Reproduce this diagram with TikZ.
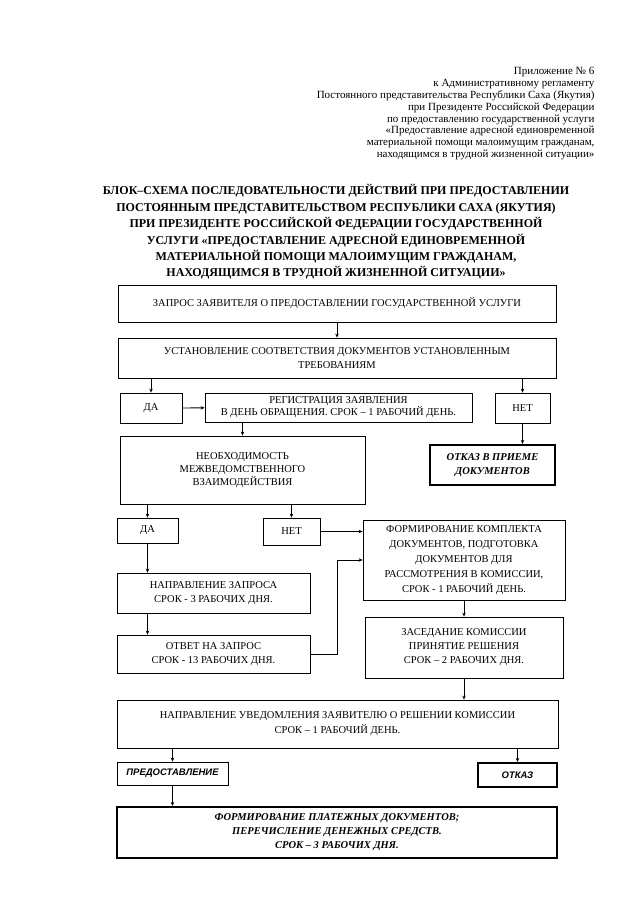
\documentclass[tikz,border=0pt]{standalone}
\usepackage{fontspec}
\setmainfont{Liberation Serif}
\newfontfamily\boxsans{Liberation Sans}
\usetikzlibrary{arrows.meta, positioning}

\begin{document}
\begin{tikzpicture} [x=1pt, y=-1pt,
    box/.style={draw, line width=0.8pt, inner sep=0pt, font=\fontsize{10.5}{14}\selectfont},
    lines/.style={box, align=center},
    endbox/.style={lines, line width=2.2pt, font=\fontsize{10.5}{14}\selectfont\bfseries\itshape},
    arr/.style={-{Stealth[length=4pt, width=3.5pt]}, line width=0.8pt}]
\useasboundingbox (0,0) rectangle (640,905);

% header and title
\node (annex) [anchor=north east, align=right, font=\fontsize{11}{11.8}\selectfont] at (598,64)
    {Приложение № 6\\
     к Административному регламенту\\
     Постоянного представительства Республики Саха (Якутия)\\
     при Президенте Российской Федерации\\
     по предоставлению государственной услуги\\
     «Предоставление адресной единовременной\\
     материальной помощи малоимущим гражданам,\\
     находящимся в трудной жизненной ситуации»};
\node (title) [align=center, font=\fontsize{12}{16.4}\selectfont\bfseries] at (336,232)
    {БЛОК–СХЕМА ПОСЛЕДОВАТЕЛЬНОСТИ ДЕЙСТВИЙ ПРИ ПРЕДОСТАВЛЕНИИ\\
     ПОСТОЯННЫМ ПРЕДСТАВИТЕЛЬСТВОМ РЕСПУБЛИКИ САХА (ЯКУТИЯ)\\
     ПРИ ПРЕЗИДЕНТЕ РОССИЙСКОЙ ФЕДЕРАЦИИ ГОСУДАРСТВЕННОЙ\\
     УСЛУГИ «ПРЕДОСТАВЛЕНИЕ АДРЕСНОЙ ЕДИНОВРЕМЕННОЙ\\
     МАТЕРИАЛЬНОЙ ПОМОЩИ МАЛОИМУЩИМ ГРАЖДАНАМ,\\
     НАХОДЯЩИМСЯ В ТРУДНОЙ ЖИЗНЕННОЙ СИТУАЦИИ»};

% boxes
\node (req) [box, minimum width=438pt, minimum height=37pt] at (337,303.5)
    {ЗАПРОС ЗАЯВИТЕЛЯ О ПРЕДОСТАВЛЕНИИ ГОСУДАРСТВЕННОЙ УСЛУГИ};
\node (check) [lines, minimum width=438pt, minimum height=40pt] at (337,358)
    {УСТАНОВЛЕНИЕ СООТВЕТСТВИЯ ДОКУМЕНТОВ УСТАНОВЛЕННЫМ\\ ТРЕБОВАНИЯМ};
\node (yes1) [box, minimum width=62pt, minimum height=30pt] at (151,408) {ДА};
\node (reg) [lines, minimum width=267pt, minimum height=29pt, font=\fontsize{10.5}{12}\selectfont] at (338.5,407.5)
    {РЕГИСТРАЦИЯ ЗАЯВЛЕНИЯ\\ В ДЕНЬ ОБРАЩЕНИЯ. СРОК – 1 РАБОЧИЙ ДЕНЬ.};
\node (no1) [box, minimum width=55pt, minimum height=30pt] at (522.5,408) {НЕТ};
\node (refuse) [endbox, minimum width=125pt, minimum height=40pt] at (492.5,465)
    {ОТКАЗ В ПРИЕМЕ\\ ДОКУМЕНТОВ};
\node (need) [lines, minimum width=245pt, minimum height=68pt, font=\fontsize{10.5}{12.8}\selectfont] at (242.5,470)
    {НЕОБХОДИМОСТЬ\\ МЕЖВЕДОМСТВЕННОГО\\ ВЗАИМОДЕЙСТВИЯ};
\node (yes2) [box, minimum width=61pt, minimum height=25pt] at (147.5,530.5) {ДА};
\node (no2) [box, minimum width=57pt, minimum height=27pt] at (291.5,531.5) {НЕТ};
\node (form) [lines, minimum width=202pt, minimum height=80pt, font=\fontsize{10.5}{15}\selectfont] at (464,560)
    {ФОРМИРОВАНИЕ КОМПЛЕКТА\\ ДОКУМЕНТОВ, ПОДГОТОВКА\\ ДОКУМЕНТОВ ДЛЯ\\ РАССМОТРЕНИЯ В КОМИССИИ,\\ СРОК - 1 РАБОЧИЙ ДЕНЬ.};
\node (send) [lines, minimum width=193pt, minimum height=40pt] at (213.5,593)
    {НАПРАВЛЕНИЕ ЗАПРОСА\\ СРОК - 3 РАБОЧИХ ДНЯ.};
\node (answer) [lines, minimum width=193pt, minimum height=38pt] at (213.5,654)
    {ОТВЕТ НА ЗАПРОС\\ СРОК - 13 РАБОЧИХ ДНЯ.};
\node (meet) [lines, minimum width=198pt, minimum height=61pt] at (464,647.5)
    {ЗАСЕДАНИЕ КОМИССИИ\\ ПРИНЯТИЕ РЕШЕНИЯ\\ СРОК – 2 РАБОЧИХ ДНЯ.};
\node (notify) [lines, minimum width=441pt, minimum height=48pt, font=\fontsize{10.5}{15}\selectfont] at (337.5,724)
    {НАПРАВЛЕНИЕ УВЕДОМЛЕНИЯ ЗАЯВИТЕЛЮ О РЕШЕНИИ КОМИССИИ\\ СРОК – 1 РАБОЧИЙ ДЕНЬ.};
\node (grant) [box, minimum width=111pt, minimum height=23pt, font=\fontsize{9.5}{12}\boxsans\bfseries\itshape] at (172.5,773.5)
    {ПРЕДОСТАВЛЕНИЕ};
\node (deny) [box, line width=2.2pt, minimum width=79pt, minimum height=24pt, font=\fontsize{9.5}{12}\boxsans\bfseries\itshape] at (517.5,775)
    {ОТКАЗ};
\node (pay) [endbox, minimum width=440pt, minimum height=51pt] at (337,832.5)
    {ФОРМИРОВАНИЕ ПЛАТЕЖНЫХ ДОКУМЕНТОВ;\\ ПЕРЕЧИСЛЕНИЕ ДЕНЕЖНЫХ СРЕДСТВ.\\ СРОК – 3 РАБОЧИХ ДНЯ.};
\coordinate (elbow) at (337,600);

% connectors
\draw [arr] (req) -- (check);
\draw [arr] (yes1.north |- check.south) -- (yes1);
\draw [arr] (no1.north |- check.south) -- (no1);
\draw [arr] (yes1) -- (reg);
\draw [arr] (no1.south) -- (no1.south |- refuse.north);
\draw [arr] (need.north |- reg.south) -- (need);
\draw [arr] (yes2.north |- need.south) -- (yes2);
\draw [arr] (no2.north |- need.south) -- (no2);
\draw [arr] (no2.east) -- (no2.east -| form.west);
\draw [arr] (yes2.south) -- (yes2.south |- send.north);
\draw [arr] (send.south -| yes2) -- (answer.north -| yes2);
\draw [arr] (answer.east) -- (answer.east -| elbow) |- (form.west);
\draw [arr] (form) -- (meet);
\draw [arr] (meet.south) -- (meet.south |- notify.north);
\draw [arr] (grant.north |- notify.south) -- (grant);
\draw [arr] (deny.north |- notify.south) -- (deny);
\draw [arr] (grant.south) -- (grant.south |- pay.north);
\end{tikzpicture}
\end{document}
